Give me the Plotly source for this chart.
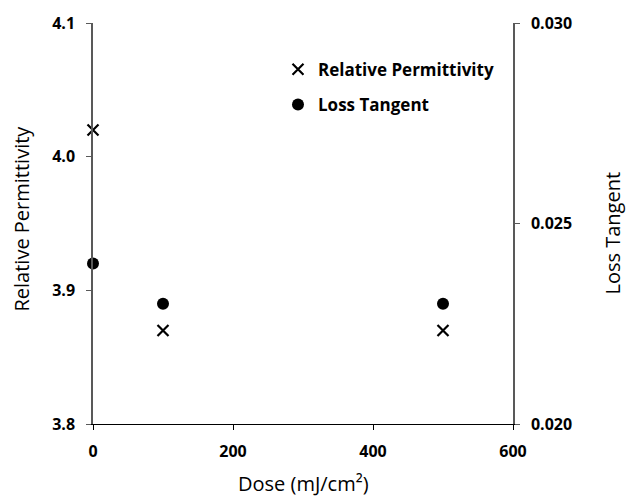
import plotly.graph_objects as go

dose = [0, 100, 500]
permittivity = [4.02, 3.87, 3.87]
loss_tangent = [0.024, 0.023, 0.023]

x_ticks = [0, 200, 400, 600]
left_ticks = [3.8, 3.9, 4.0, 4.1]
right_ticks = [0.020, 0.025, 0.030]

FONT = "Open Sans"
AXIS_GRAY = "#595959"

fig = go.Figure()
fig.add_trace(go.Scatter(
    x=dose, y=permittivity, mode="markers", name="Relative Permittivity",
    marker=dict(symbol="x-thin-open", size=11, color="black",
                line=dict(width=2.2, color="black")),
    cliponaxis=False, legendgroup="a", yaxis="y",
))
fig.add_trace(go.Scatter(
    x=dose, y=loss_tangent, mode="markers", name="Loss Tangent",
    marker=dict(symbol="circle", size=12, color="black"),
    cliponaxis=False, legendgroup="b", yaxis="y2",
))

tickfont = dict(family=FONT, size=16, color="black", weight="bold")
titlefont = dict(family=FONT, size=20, color="black")

fig.update_layout(
    width=626, height=496,
    margin=dict(l=93, r=113, t=20, b=72),
    paper_bgcolor="white", plot_bgcolor="white",
    showlegend=True,
    legend=dict(x=(278 - 93) / 420, y=1 - (49 - 20) / 404, xanchor="left", yanchor="top",
                font=dict(family=FONT, size=17, color="black", weight="bold"),
                bgcolor="rgba(0,0,0,0)", tracegroupgap=10, itemwidth=30),
    xaxis=dict(range=[0, 600], tickvals=x_ticks, ticks="outside", ticklen=5,
               tickcolor="black", showline=True, linecolor="black", linewidth=1,
               showgrid=False, zeroline=False, tickfont=tickfont, ticklabelstandoff=8),
    yaxis=dict(range=[3.8, 4.1], tickvals=left_ticks, tickformat=".1f",
               ticks="outside", ticklen=5, tickcolor=AXIS_GRAY, showline=True,
               linecolor=AXIS_GRAY, linewidth=1.5, showgrid=False, zeroline=False,
               tickfont=tickfont, ticklabelstandoff=8),
    yaxis2=dict(range=[0.020, 0.030], tickvals=right_ticks, tickformat=".3f",
                overlaying="y", side="right", ticks="outside", ticklen=5,
                tickcolor=AXIS_GRAY, showline=True, linecolor=AXIS_GRAY, linewidth=1.5,
                showgrid=False, zeroline=False, tickfont=tickfont, ticklabelstandoff=8),
    annotations=[
        dict(text="Relative Permittivity", xref="paper", yref="paper", x=0, y=0.5,
             xanchor="center", yanchor="middle",
             xshift=-72, yshift=5, textangle=-90, showarrow=False, font=titlefont),
        dict(text="Loss Tangent", xref="paper", yref="paper", x=1, y=0.5,
             xanchor="center", yanchor="middle",
             xshift=99, yshift=-10, textangle=-90, showarrow=False, font=titlefont),
        dict(text="Dose (mJ/cm²)", xref="paper", yref="paper", x=0.5, y=0,
             xanchor="center", yanchor="middle",
             yshift=-59, showarrow=False, font=titlefont),
    ],
)

fig.write_html("out.html")
